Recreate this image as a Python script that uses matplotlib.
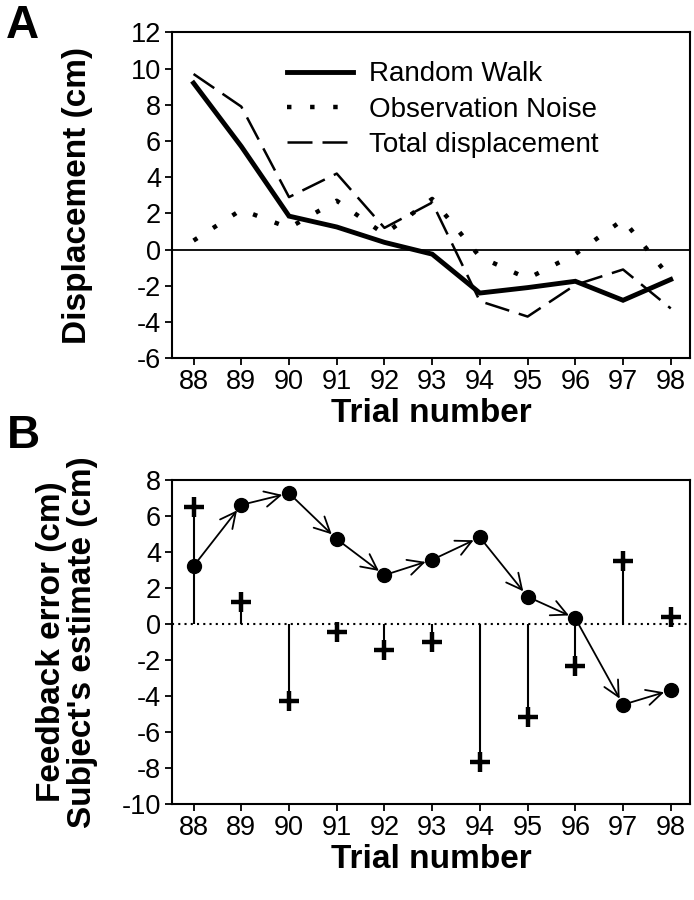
import matplotlib
matplotlib.use('Agg')
import matplotlib.pyplot as plt
import numpy as np

plt.rcParams['font.family'] = ['Liberation Sans', 'DejaVu Sans']
plt.rcParams['axes.unicode_minus'] = False

trials = [88, 89, 90, 91, 92, 93, 94, 95, 96, 97, 98]

# panel A
random_walk = [9.2, 5.7, 1.85, 1.25, 0.4, -0.25, -2.4, -2.1, -1.75, -2.8, -1.65]
obs_noise = [0.5, 2.2, 1.2, 2.7, 0.85, 2.8, -0.4, -1.6, -0.25, 1.65, -1.6]
total_disp = [9.7, 7.9, 2.9, 4.2, 1.2, 2.6, -2.85, -3.7, -1.95, -1.1, -3.25]

# panel B
estimate = [3.2, 6.6, 7.25, 4.7, 2.7, 3.55, 4.8, 1.5, 0.3, -4.5, -3.7]
feedback = [6.5, 1.2, -4.3, -0.45, -1.45, -1.0, -7.7, -5.2, -2.35, 3.5, 0.35]

tick_fs = 19.5
label_fs = 24

fig = plt.figure(figsize=(6.94, 9.0), dpi=100)
axA = fig.add_axes([0.248, 0.602, 0.746, 0.362])
axB = fig.add_axes([0.248, 0.107, 0.746, 0.360])

def style(ax, ylim, yticks):
  ax.set_xlim(87.55, 98.4)
  ax.set_ylim(*ylim)
  ax.set_xticks(trials)
  ax.set_yticks(yticks)
  ax.tick_params(direction='out', length=5, width=1.3, labelsize=tick_fs, pad=3)
  for s in ax.spines.values():
    s.set_linewidth(1.5)
  ax.set_xlabel('Trial number', fontsize=label_fs, fontweight='bold', labelpad=2)

# --- A ---
axA.axhline(0, color='k', lw=1.3)
axA.plot(trials, random_walk, color='k', lw=3.5, solid_joinstyle='miter', label='Random Walk')
axA.plot(trials, obs_noise, color='k', lw=3.2, linestyle=(0, (1, 4.2)), dash_capstyle='butt',
         label='Observation Noise')
axA.plot(trials, total_disp, color='k', lw=1.8, linestyle=(0, (10, 4)), label='Total displacement')
style(axA, (-6, 12), np.arange(-6, 13, 2))
axA.set_ylabel('Displacement (cm)', fontsize=label_fs, fontweight='bold')
axA.yaxis.set_label_coords(-0.153, 0.5)
axA.legend(loc='upper left', bbox_to_anchor=(0.2, 0.945), frameon=False, fontsize=20,
           handlelength=2.4, handletextpad=0.55, labelspacing=0.33, borderaxespad=0)

# --- B ---
axB.axhline(0, color='k', lw=1.5, linestyle=(0, (1, 2)))
axB.vlines(trials, 0, feedback, color='k', lw=1.5)
axB.plot(trials, feedback, linestyle='none', marker='+', color='k', ms=14, mew=3.2)
for i in range(len(trials) - 1):
  axB.annotate('', xy=(trials[i + 1], estimate[i + 1]), xytext=(trials[i], estimate[i]),
               arrowprops=dict(arrowstyle='->,head_length=0.7,head_width=0.35', color='k',
                               lw=1.3, shrinkA=0, shrinkB=5, mutation_scale=16))
axB.plot(trials, estimate, linestyle='none', marker='o', color='k', ms=10)
style(axB, (-10, 8), np.arange(-10, 9, 2))
axB.set_ylabel('Feedback error (cm)\nSubject\'s estimate (cm)', fontsize=label_fs,
               fontweight='bold', linespacing=1.0)
axB.yaxis.set_label_coords(-0.143, 0.5)

fig.text(0.008, 0.995, 'A', fontsize=33, fontweight='bold', va='top', ha='left')
fig.text(0.010, 0.540, 'B', fontsize=33, fontweight='bold', va='top', ha='left')

fig.savefig('out.png', dpi=100)
